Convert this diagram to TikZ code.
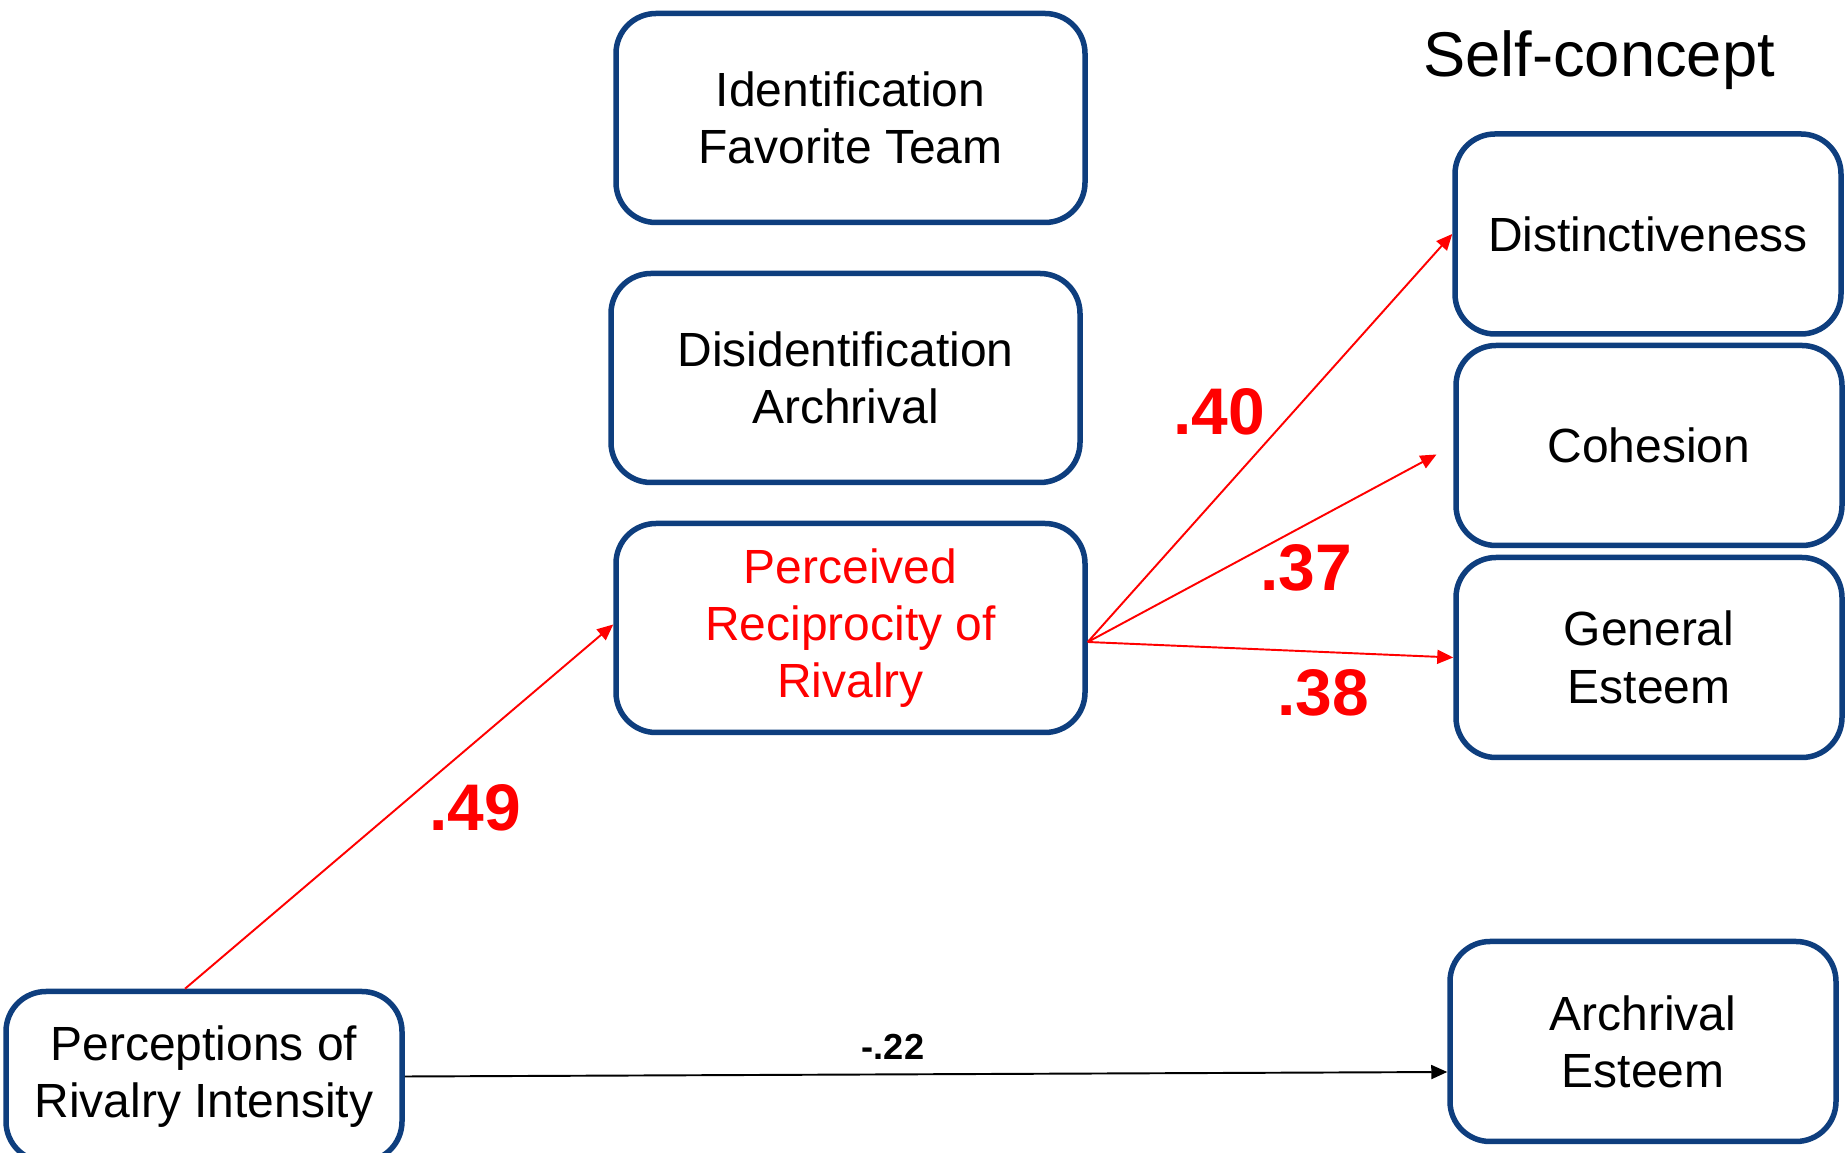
\documentclass[tikz,border=0pt]{standalone}
\usepackage{fontspec}
\setmainfont{Liberation Sans}
\usetikzlibrary{arrows.meta,positioning}
\definecolor{boxblue}{RGB}{14,62,126}

\begin{document}
\begin{tikzpicture}[
    box/.style={draw=boxblue,line width=0.11cm,rounded corners=0.8cm,align=center,
      font=\fontsize{27.3}{32.6}\selectfont,inner sep=0pt},
    midbox/.style={box,minimum width=9.38cm,minimum height=4.18cm},
    sidebox/.style={box,minimum width=7.72cm,minimum height=4cm},
    path/.style={red,line width=1.1pt,-{Triangle[length=0.32cm,width=0.28cm]}},
    coef/.style={red,font=\fontsize{37.5}{40}\selectfont\bfseries}
  ]
  \useasboundingbox (0,0) rectangle (36.94,23.06);
  \node[midbox] (ident) at (17.01,20.7) {Identification\\Favorite Team};
  \node[midbox] (disid) at (16.91,15.5) {Disidentification\\Archrival};
  \node[midbox,text=red] (recip) at (17.01,10.5) {Perceived\\Reciprocity of\\Rivalry};
  \node[font=\fontsize{36}{40}\selectfont] (self) at (31.98,21.85) {Self-concept};
  \node[sidebox] (dist) at (32.96,18.38) {Distinctiveness};
  \node[sidebox] (cohes) at (32.98,14.15) {Cohesion};
  \node[sidebox] (gen) at (32.98,9.91) {General\\Esteem};
  \node[sidebox] (arch) at (32.86,2.23) {Archrival\\Esteem};
  \node[box,minimum width=7.92cm,minimum height=3.4cm] (percep) at (4.08,1.53)
    {Perceptions of\\Rivalry Intensity};

  \draw[path] ([xshift=-0.38cm]percep.north) -- ([yshift=0.07cm]recip.west);
  \draw[path] ([yshift=-0.28cm]recip.east) -- (dist.west);
  \draw[path,shorten >=0.38cm] ([yshift=-0.28cm]recip.east) -- (cohes.west);
  \draw[path] ([yshift=-0.28cm]recip.east) -- (gen.west);
  \draw[line width=1.1pt,-{Triangle[length=0.32cm,width=0.28cm]}]
    (percep.east) -- ([yshift=-0.61cm]arch.west);

  \node[coef] (c49) at (9.5,6.9) {.49};
  \node[coef] (c40) at (24.38,14.82) {.40};
  \node[coef] (c37) at (26.12,11.7) {.37};
  \node[coef] (c38) at (26.46,9.2) {.38};
  \node[font=\fontsize{20.6}{24}\selectfont\bfseries] (c22) at (17.86,2.12) {-.22};
\end{tikzpicture}
\end{document}
